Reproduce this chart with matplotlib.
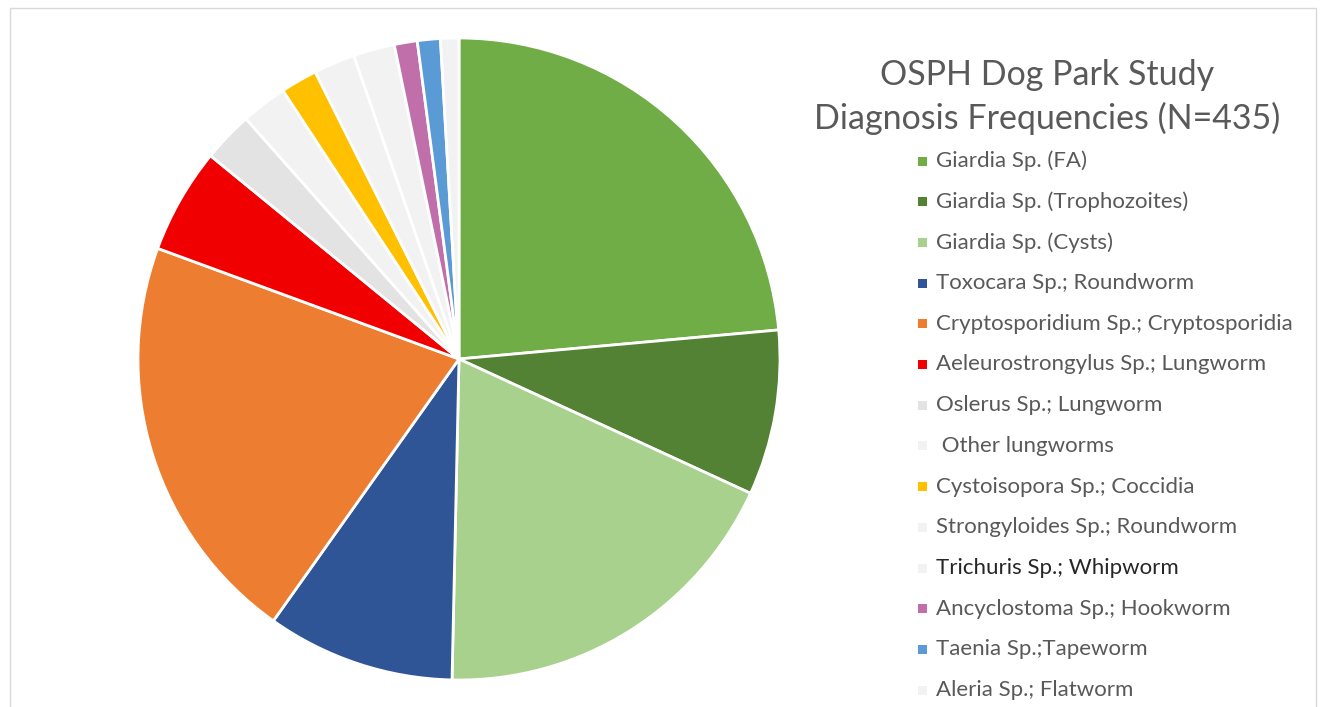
import matplotlib
matplotlib.use("Agg")
import matplotlib.pyplot as plt
from matplotlib.patches import Rectangle

# Datos (frecuencias estimadas)
labels = ["Giardia Sp. (FA)", "Giardia Sp. (Trophozoites)", "Giardia Sp. (Cysts)",
          "Toxocara Sp.; Roundworm", "Cryptosporidium Sp.; Cryptosporidia",
          "Aeleurostrongylus Sp.; Lungworm", "Oslerus Sp.; Lungworm", " Other lungworms",
          "Cystoisopora Sp.; Coccidia", "Strongyloides Sp.; Roundworm",
          "Trichuris Sp.; Whipworm", "Ancyclostoma Sp.; Hookworm",
          "Taenia Sp.;Tapeworm", "Aleria Sp.; Flatworm"]
counts = [102, 36, 80, 41, 90, 23, 11, 10, 8, 9, 9, 5, 5, 4]
colors = ["#70AD47", "#548235", "#A9D18E", "#2F5597", "#ED7D31", "#F00000",
          "#E3E3E3", "#F2F2F2", "#FFC000", "#F2F2F2", "#F2F2F2", "#C06FAA",
          "#5B9BD5", "#F2F2F2"]
title = "OSPH Dog Park Study\nDiagnosis Frequencies (N=435)"

W, H = 1325, 707
fig = plt.figure(figsize=(W / 100, H / 100), dpi=100)

# marco gris
fig.patches.append(Rectangle((10 / W, -0.1), 1306 / W, 1.1 - 8 / H,
                             transform=fig.transFigure, fill=False,
                             edgecolor="#D9D9D9", linewidth=1))

# Pie
cx, cy, r = 459, 359, 321
ax = fig.add_axes([(cx - r) / W, (H - cy - r) / H, 2 * r / W, 2 * r / H])
ax.pie(counts, colors=colors, startangle=90, counterclock=False, radius=1,
       wedgeprops=dict(edgecolor="white", linewidth=2))
ax.set_xlim(-1, 1)
ax.set_ylim(-1, 1)
ax.set_aspect("equal")
ax.axis("off")

# Titulo
fig.text(1047 / W, 1 - 97 / H, title, ha="center", va="center",
         fontsize=24.5, color="#595959", family="Lato", linespacing=1.38)

# Leyenda
for i, (lab, col) in enumerate(zip(labels, colors)):
    y = 1 - (161 + i * 40.7) / H
    fig.patches.append(Rectangle((918 / W, y - 4.5 / H), 9 / W, 9 / H,
                                 transform=fig.transFigure, facecolor=col,
                                 edgecolor="none"))
    tcol = "#262626" if lab.startswith("Trichuris") else "#595959"
    fig.text(936 / W, y, lab, ha="left", va="center", fontsize=16,
             color=tcol, family="Lato")

fig.savefig("out.png", dpi=100)
